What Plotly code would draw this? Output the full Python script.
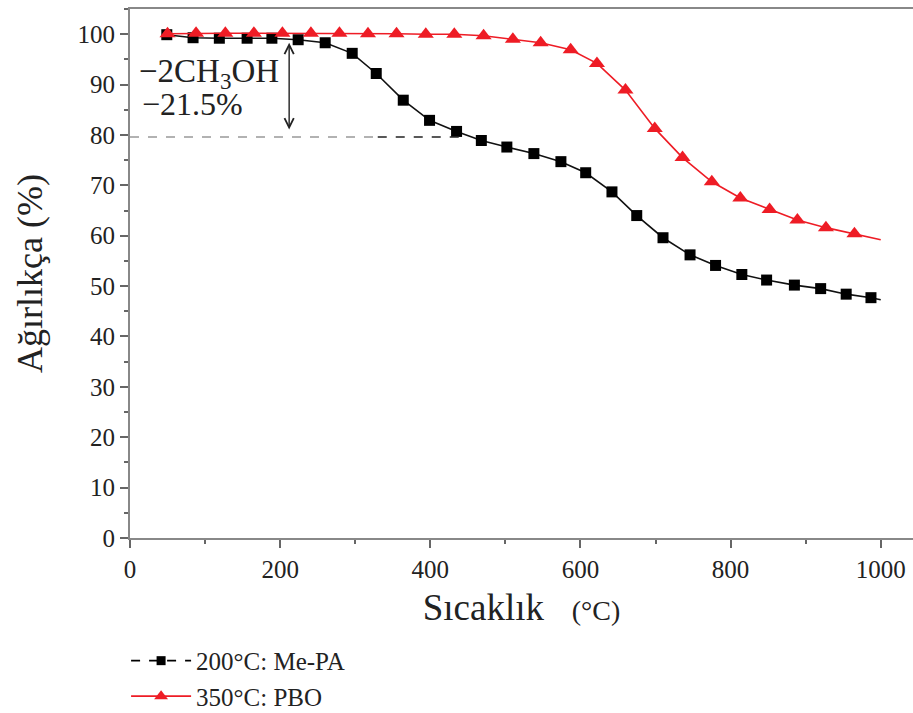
import plotly.graph_objects as go

# ---- data ----
me_pa_x = [49, 84, 119, 156, 189, 224, 260, 296, 328, 364, 399, 435, 468, 502,
           538, 574, 607, 642, 675, 710, 746, 780, 815, 848, 885, 920, 954, 987]
me_pa_y = [99.9, 99.3, 99.2, 99.2, 99.2, 98.9, 98.3, 96.2, 92.2, 86.9, 82.9, 80.7,
           78.9, 77.6, 76.3, 74.7, 72.5, 68.7, 64.0, 59.6, 56.2, 54.1, 52.3, 51.2,
           50.2, 49.5, 48.4, 47.7]
me_pa_end = [1000, 47.3]

pbo_x = [50, 88, 127, 165, 203, 241, 279, 317, 355, 394, 432, 471, 510, 547, 587,
         622, 660, 699, 736, 775, 813, 852, 889, 927, 965]
pbo_y = [100.1, 100.2, 100.2, 100.2, 100.2, 100.2, 100.2, 100.1, 100.1, 100.0, 100.0,
         99.7, 99.0, 98.3, 96.9, 94.2, 88.9, 81.3, 75.5, 70.7, 67.5, 65.2, 63.1, 61.6, 60.4]
pbo_end = [1000, 59.2]

series_names = ["200°C: Me-PA", "350°C: PBO"]
loss_level = 79.6          # residual weight after methanol loss
loss_top = 98.3
arrow_x = 212
loss_text = ["−2CH<sub>3</sub>OH", "−21.5%"]
x_ticks = [0, 200, 400, 600, 800, 1000]
y_ticks = list(range(0, 101, 10))

SERIF = "Liberation Serif, Times New Roman, Times, serif"
fig = go.Figure()

# Me-PA curve (solid in plot)
fig.add_trace(go.Scatter(
    x=me_pa_x + [me_pa_end[0]], y=me_pa_y + [me_pa_end[1]], mode="lines",
    line=dict(color="#111111", width=1.6), showlegend=False, hoverinfo="skip"))
fig.add_trace(go.Scatter(
    x=me_pa_x, y=me_pa_y, mode="markers",
    marker=dict(symbol="square", size=11, color="black"), showlegend=False))
# PBO curve
fig.add_trace(go.Scatter(
    x=pbo_x + [pbo_end[0]], y=pbo_y + [pbo_end[1]], mode="lines",
    line=dict(color="#ee1c25", width=1.6), showlegend=False, hoverinfo="skip"))
fig.add_trace(go.Scatter(
    x=pbo_x, y=pbo_y, mode="markers",
    marker=dict(symbol="triangle-up", size=14, color="#ee1c25"), showlegend=False))

# legend proxies
fig.add_trace(go.Scatter(
    x=[None], y=[None], mode="lines+markers", name=series_names[0],
    line=dict(color="black", width=1.6, dash="dash"),
    marker=dict(symbol="square", size=9, color="black")))
fig.add_trace(go.Scatter(
    x=[None], y=[None], mode="lines+markers", name=series_names[1],
    line=dict(color="#ee1c25", width=1.6),
    marker=dict(symbol="triangle-up", size=12, color="#ee1c25")))

# reference dashed line
fig.add_shape(type="line", x0=0, x1=330, y0=loss_level, y1=loss_level,
              xref="x", yref="y", line=dict(color="#999999", width=1.6, dash="dash"))
fig.add_shape(type="line", x0=330, x1=440, y0=loss_level, y1=loss_level,
              xref="x", yref="y", line=dict(color="#222222", width=1.6, dash="dash"))

# double arrow
fig.add_annotation(x=arrow_x, y=loss_top, ax=arrow_x, ay=loss_level + 1.2,
                   xref="x", yref="y", axref="x", ayref="y", text="",
                   showarrow=True, arrowhead=5, startarrowhead=5, arrowside="end+start",
                   arrowwidth=1.4, arrowsize=1.3, arrowcolor="#222222")
fig.add_annotation(x=9, y=92.1, xref="x", yref="y", text=loss_text[0], showarrow=False,
                   xanchor="left", font=dict(family=SERIF, size=33, color="#222222"))
fig.add_annotation(x=13, y=86.2, xref="x", yref="y", text=loss_text[1], showarrow=False,
                   xanchor="left", font=dict(family=SERIF, size=32, color="#222222"))

fig.update_layout(
    width=913, height=713,
    margin=dict(l=130, r=0, t=9, b=175, autoexpand=False),
    plot_bgcolor="white", paper_bgcolor="white",
    font=dict(family=SERIF, color="#222222"),
    legend=dict(x=-0.005, y=-0.342, xanchor="left", yanchor="bottom",
                font=dict(family=SERIF, size=25, color="#222222"),
                bgcolor="rgba(0,0,0,0)", tracegroupgap=0, itemwidth=60),
    xaxis=dict(range=[0, 1043], tickvals=x_ticks, ticks="outside", ticklen=8,
               tickwidth=1.5, tickcolor="#666666", showgrid=False, zeroline=False,
               showline=True, linecolor="#888888", linewidth=2, mirror=True,
               automargin=False,
               tickfont=dict(family=SERIF, size=25, color="#222222"),
               minor=dict(dtick=100, ticks="outside", ticklen=4, tickcolor="#666666"),
               title=dict(text="Sıcaklık\u00a0\u00a0 <span style='font-size:28px'>(°C)</span>",
                          font=dict(family=SERIF, size=37, color="#222222"), standoff=12)),
    yaxis=dict(range=[0, 105], tickvals=y_ticks, ticks="outside", ticklen=8,
               tickwidth=1.5, tickcolor="#666666", showgrid=False, zeroline=False,
               showline=True, linecolor="#888888", linewidth=2,
               automargin=False,
               tickfont=dict(family=SERIF, size=25, color="#222222"),
               minor=dict(dtick=5, ticks="outside", ticklen=4, tickcolor="#666666"),
               title=dict(text="Ağırlıkça (%)",
                          font=dict(family=SERIF, size=36, color="#222222"), standoff=24)),
)

fig.write_html("out.html", config={"displayModeBar": False},
               post_script="document.body.style.margin='0';"
                           "document.body.style.overflow='hidden';"
                           "document.documentElement.style.overflow='hidden';")
